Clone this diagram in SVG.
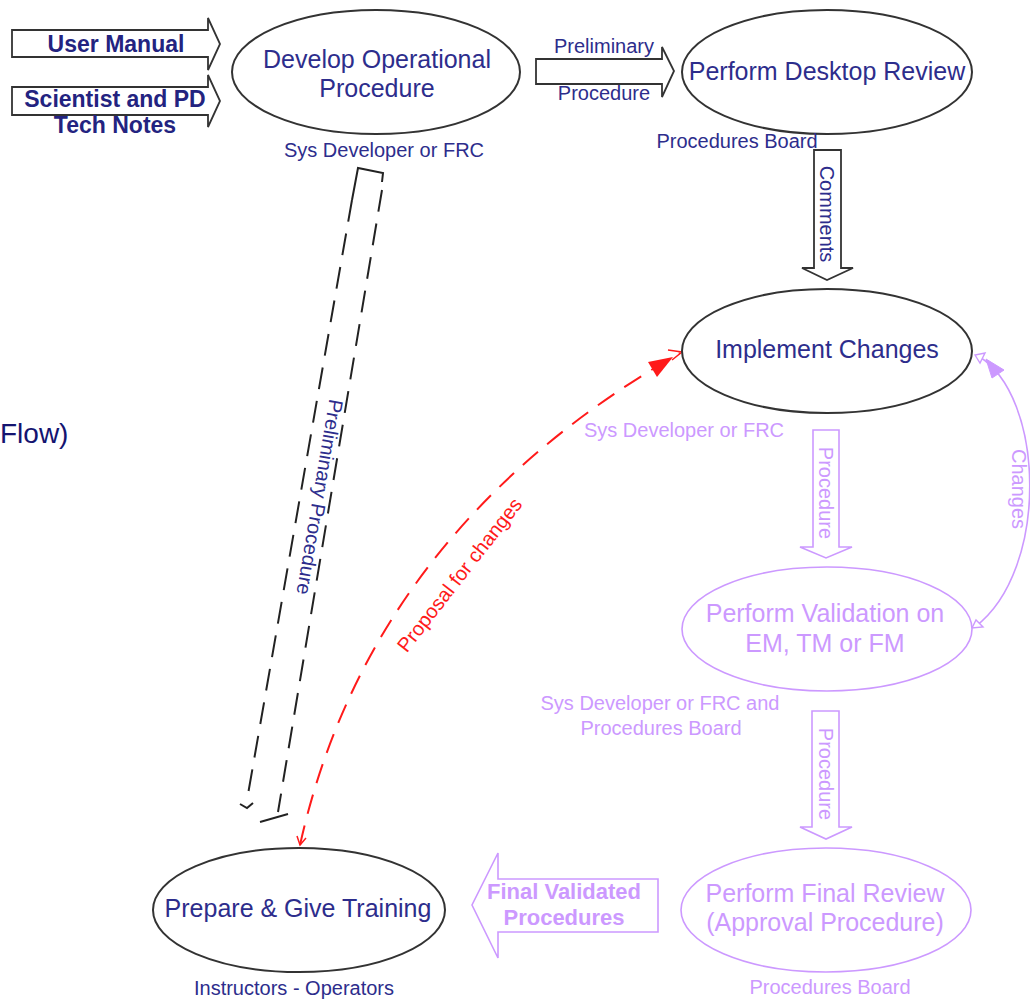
<svg xmlns="http://www.w3.org/2000/svg" width="1030" height="1000" viewBox="0 0 1030 1000">
<defs>
<style>
text{font-family:"Liberation Sans",Arial,sans-serif;}
.t25{font-size:25px;fill:#2d2d8c;text-anchor:middle;}
.t20{font-size:20px;fill:#2d2d8c;text-anchor:middle;}
.l25{font-size:25px;fill:#cc99ff;text-anchor:middle;}
.l20{font-size:20px;fill:#cc99ff;text-anchor:middle;}
.b23{font-size:23px;font-weight:bold;fill:#232380;text-anchor:middle;}
.lb{font-size:22px;font-weight:bold;fill:#cc99ff;text-anchor:middle;}
.el{fill:#fff;stroke:#333;stroke-width:2;}
.ell{fill:#fff;stroke:#cc99ff;stroke-width:1.6;}
.ba{fill:#fff;stroke:#333;stroke-width:1.8;stroke-linejoin:miter;}
.bal{fill:#fff;stroke:#cc99ff;stroke-width:1.6;}
.dk{fill:none;stroke:#222;stroke-width:2;stroke-dasharray:22 12;}
.rd{fill:none;stroke:#ff1a1a;stroke-width:2;stroke-dasharray:20 12;}
</style>
</defs>
<rect width="1030" height="1000" fill="#fff"/>
<text x="0" y="443" style="font-size:28px;fill:#141470;">Flow)</text>

<g id="connectors">
  <g id="in-user-manual">
    <path class="ba" d="M12 30 L208 30 L208 18 L220 44 L208 70 L208 57 L12 57 Z"/>
    <text class="b23" x="116" y="52">User Manual</text>
  </g>
  <g id="in-tech-notes">
    <path class="ba" d="M12 87 L208 87 L208 75 L220 101 L208 127 L208 115 L12 115 Z"/>
    <text class="b23" x="115" y="107">Scientist and PD</text>
    <text class="b23" x="115" y="133">Tech Notes</text>
  </g>
  <g id="e-prelim">
    <path class="ba" d="M536 59 L662 59 L662 47 L674 71 L662 97 L662 84 L536 84 Z"/>
    <text class="t20" x="604" y="53">Preliminary</text>
    <text class="t20" x="604" y="100">Procedure</text>
  </g>
  <g id="e-comments">
    <path class="ba" d="M814 150 L841 150 L841 268 L853 268 L827 280 L802 268 L814 268 Z"/>
    <text class="t20" transform="translate(820 214) rotate(90)">Comments</text>
  </g>
  <g id="e-procedure1">
    <path class="bal" d="M813 430 L839 430 L839 547 L852 547 L826 558 L800 547 L813 547 Z"/>
    <text class="l20" transform="translate(819 493) rotate(90)">Procedure</text>
  </g>
  <g id="e-procedure2">
    <path class="bal" d="M812 711 L839 711 L839 827 L852 827 L826 839 L800 827 L812 827 Z"/>
    <text class="l20" transform="translate(819 774) rotate(90)">Procedure</text>
  </g>
  <g id="e-final">
    <path class="bal" d="M658 879 L498 879 L498 853 L472 905 L498 958 L498 932 L658 932 Z"/>
    <text class="lb" x="564" y="899">Final Validated</text>
    <text class="lb" x="564" y="925">Procedures</text>
  </g>
  <g id="e-changes">
    <path d="M978 356 C1045 395 1050 570 975 627" fill="none" stroke="#cc99ff" stroke-width="1.6"/>
    <path d="M986 359 L992 378 L1004 370 Z" fill="#cc99ff" stroke="#cc99ff" stroke-width="1"/>
    <path d="M975 355 L980 363 L985 353 Z" fill="#fff" stroke="#cc99ff" stroke-width="1.4"/>
    <path d="M972 628 L976 620 L983 627 Z" fill="#fff" stroke="#cc99ff" stroke-width="1.4"/>
    <text class="l20" transform="translate(1012 489) rotate(90)">Changes</text>
  </g>
  <g id="e-prelim-dashed">
    <path d="M352 200 L358 168 L383 173 L382 182" fill="none" stroke="#222" stroke-width="2"/>
    <line class="dk" x1="352" y1="200" x2="247" y2="800"/>
    <line class="dk" x1="382" y1="190" x2="278" y2="812"/>
    <path d="M240 804 L247 808 L253 803" fill="none" stroke="#222" stroke-width="2"/>
    <path d="M260 822 L288 814" fill="none" stroke="#222" stroke-width="2"/>
    <text class="t20" transform="translate(313 496) rotate(99.6)">Preliminary Procedure</text>
  </g>
  <g id="e-proposal">
    <path class="rd" d="M300 845 Q370 530 680 353"/>
    <path d="M673 357 L648 362 L657 377 Z" fill="#ff1a1a"/>
    <path d="M668 350 L682 352 L672 360" fill="none" stroke="#ff1a1a" stroke-width="1.5"/>
    <path d="M297 836 L300 845 L306 838" fill="none" stroke="#ff1a1a" stroke-width="1.5"/>
    <text transform="translate(465 579) rotate(-52)" style="font-size:20px;fill:#ff1a1a;text-anchor:middle;">Proposal for changes</text>
  </g>
</g>

<g id="n-develop">
  <ellipse class="el" cx="376" cy="72" rx="144" ry="62"/>
  <text class="t25" x="377" y="68">Develop Operational</text>
  <text class="t25" x="377" y="97">Procedure</text>
  <text class="t20" x="384" y="157">Sys Developer or FRC</text>
</g>
<g id="n-desktop">
  <ellipse class="el" cx="827" cy="72" rx="145" ry="62"/>
  <text class="t25" x="827" y="80">Perform Desktop Review</text>
  <text class="t20" x="737" y="148">Procedures Board</text>
</g>
<g id="n-implement">
  <ellipse class="el" cx="827" cy="351" rx="145" ry="62"/>
  <text class="t25" x="827" y="358">Implement Changes</text>
  <text class="l20" x="684" y="437">Sys Developer or FRC</text>
</g>
<g id="n-validation">
  <ellipse class="ell" cx="827" cy="629" rx="145" ry="62"/>
  <text class="l25" x="825" y="622">Perform Validation on</text>
  <text class="l25" x="825" y="652">EM, TM or FM</text>
  <text class="l20" x="660" y="710">Sys Developer or FRC and</text>
  <text class="l20" x="661" y="735">Procedures Board</text>
</g>
<g id="n-final">
  <ellipse class="ell" cx="826" cy="910" rx="145" ry="62"/>
  <text class="l25" x="825" y="902">Perform Final Review</text>
  <text class="l25" x="825" y="931">(Approval Procedure)</text>
  <text class="l20" x="830" y="994">Procedures Board</text>
</g>
<g id="n-training">
  <ellipse class="el" cx="299" cy="910" rx="146" ry="62"/>
  <text class="t25" x="298" y="917">Prepare &amp; Give Training</text>
  <text class="t20" x="294" y="995">Instructors - Operators</text>
</g>
</svg>
